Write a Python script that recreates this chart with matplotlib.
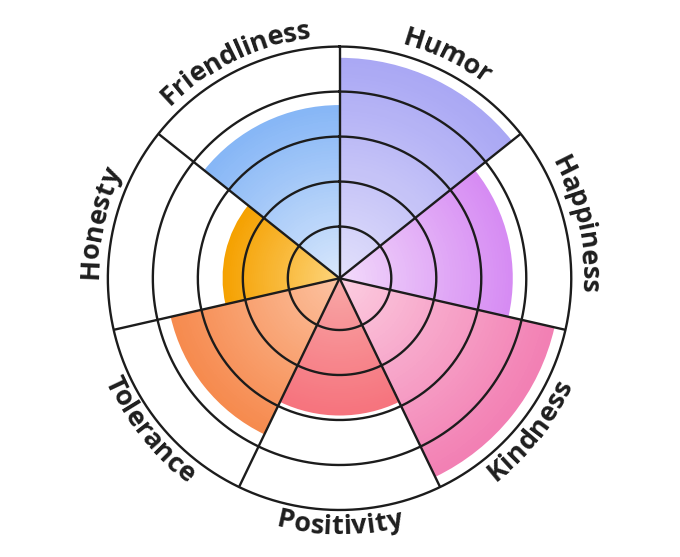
import numpy as np
import matplotlib
matplotlib.use("Agg")
import matplotlib.pyplot as plt
from matplotlib.colors import LinearSegmentedColormap
from matplotlib.font_manager import FontProperties
from matplotlib.textpath import text_to_path

# data (clockwise from top)
labels = ['Humor', 'Happiness', 'Kindness', 'Positivity', 'Tolerance', 'Honesty', 'Friendliness']
values = [95, 74, 95, 58, 74, 49, 74]
outer_colors = ['#a9a7f4', '#d68bf3', '#f27fb3', '#f6737d', '#f68a4e', '#f5a100', '#86b6f6']
inner_colors = ['#e4e2fb', '#f3ddfb', '#fcd0e2', '#f8a9a8', '#fcc4a4', '#fdd680', '#dbe9fc']
rings = [20, 40, 60, 80, 100]

DPI = 100
RMIN = -3
RMAX = 100
n = len(labels)
step = 2 * np.pi / n
line_col = '#1c1c1c'

fig = plt.figure(figsize=(6.8, 5.57), dpi=DPI)
ax = fig.add_axes([0.1586, 0.0844, 0.6815, 0.832], projection='polar')
ax.set_theta_zero_location('N')
ax.set_theta_direction(-1)
ax.set_ylim(RMIN, RMAX)
ax.grid(False)
ax.set_xticks([])
ax.set_yticks([])
ax.spines['polar'].set_visible(False)

# gradient bars: plain bar gives the smooth outline, mesh adds the gradient
for i, (v, c_in, c_out) in enumerate(zip(values, inner_colors, outer_colors)):
    t0 = i * step
    ax.bar(t0, v - RMIN, width=step, bottom=RMIN, align='edge',
           color=c_out, edgecolor='none', zorder=1)
    cmap = LinearSegmentedColormap.from_list('g%d' % i, [c_in, c_out])
    th = np.linspace(t0, t0 + step, 60)
    rr = np.linspace(RMIN, v - 0.6, 60)
    TH, RR = np.meshgrid(th, rr)
    rc = (rr[:-1] + rr[1:]) / 2
    frac = ((rc - RMIN) / (v - RMIN)) ** 0.9
    C = np.repeat(frac[:, None], len(th) - 1, axis=1)
    ax.pcolormesh(TH, RR, C, cmap=cmap, vmin=0, vmax=1,
                  shading='flat', zorder=2, edgecolors='none',
                  antialiased=False)

# rings and spokes
tt = np.linspace(0, 2 * np.pi, 400)
for r in rings:
    ax.plot(tt, np.full_like(tt, r), color=line_col, lw=1.7, zorder=3, clip_on=False)
for i in range(n):
    ax.plot([i * step, i * step], [RMIN, RMAX], color=line_col, lw=1.7, zorder=3)

# curved labels
fp = FontProperties(family='Open Sans', weight='bold', size=19.5)
px_per_unit = 231.7 / (RMAX - RMIN)
R_px = 249


def width_px(s):
    if not s:
        return 0.0
    w, h, d = text_to_path.get_text_width_height_descent(s, fp, ismath=False)
    return w * DPI / 72.0


for i, lab in enumerate(labels):
    phi = np.pi / 2 - (i + 0.5) * step  # math angle of sector centre
    total = width_px(lab)
    span = total / R_px
    top = np.sin(phi) > 0
    for k, ch in enumerate(lab):
        before = width_px(lab[:k])
        cw = width_px(lab[:k + 1]) - before
        off = (before + cw / 2) / R_px
        if top:
            a = phi + span / 2 - off
            rot = np.degrees(a) - 90
        else:
            a = phi - span / 2 + off
            rot = np.degrees(a) + 90
        ax.text(np.pi / 2 - a, R_px / px_per_unit + RMIN, ch, fontproperties=fp,
                color='#1e1e1e', rotation=rot, rotation_mode='anchor',
                ha='center', va='center', clip_on=False, zorder=4)

fig.savefig('out.png', dpi=DPI)
